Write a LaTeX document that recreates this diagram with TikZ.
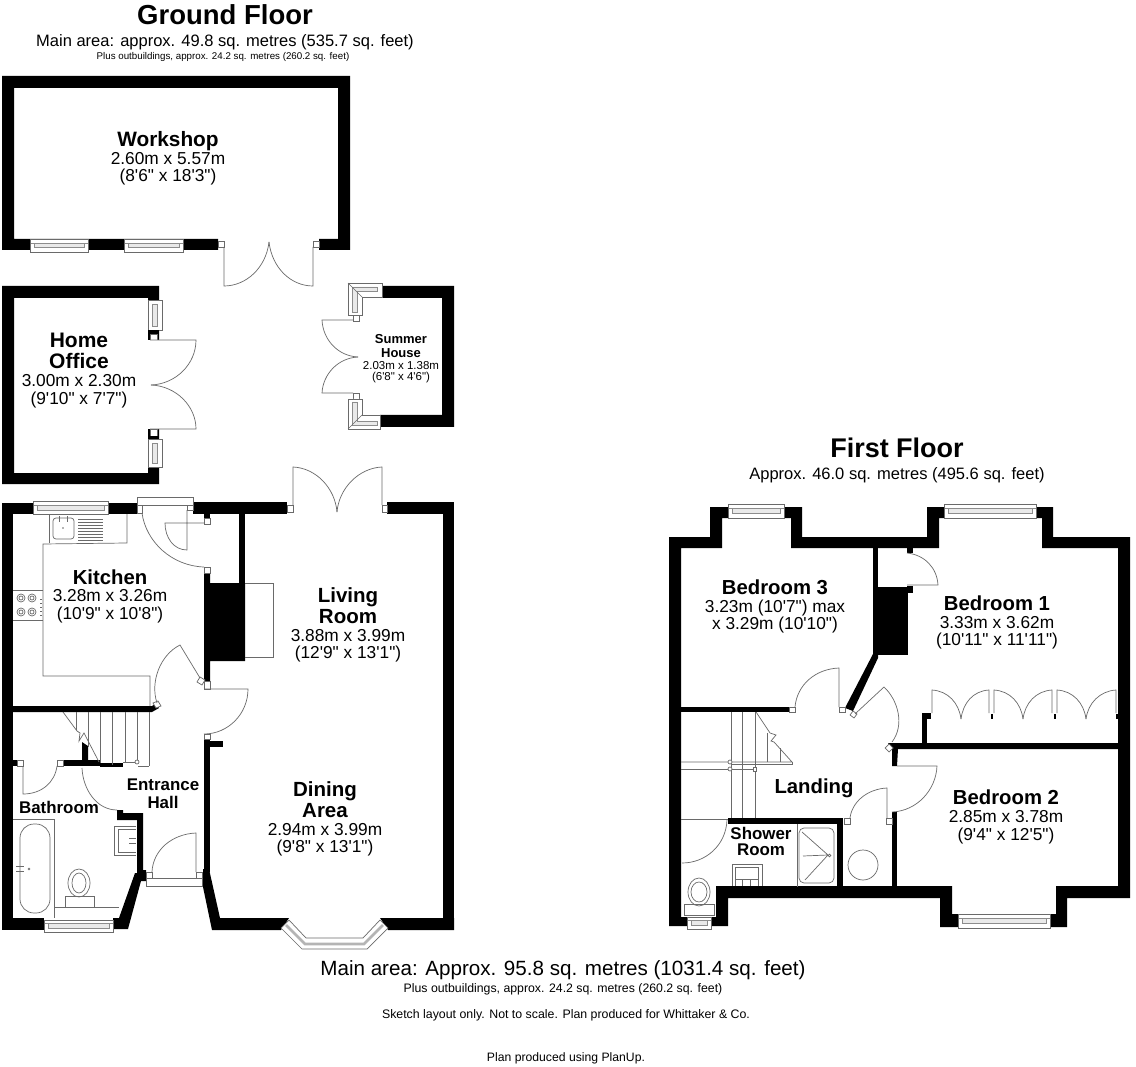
\documentclass[tikz,border=0pt]{standalone}
\usepackage{fontspec}
\newfontfamily\pf{Liberation Sans}
\definecolor{ln}{HTML}{6A6A6A}
\definecolor{glz}{HTML}{C8C8C8}
\newcount\labn
\newcommand{\lr}[4]{\global\advance\labn by 1 \node[inner sep=0pt,anchor=base] (lab\the\labn) at (#1,{#2+0.36*#3}) {\fontsize{#3}{#3}\pf #4};}
\newcommand{\lbb}[4]{\global\advance\labn by 1 \node[inner sep=0pt,anchor=base] (lab\the\labn) at (#1,{#2+0.36*#3}) {\fontsize{#3}{#3}\pf\bfseries #4};}
% horizontal window: x1 x2 y1 y2
\newcommand{\winh}[4]{\draw[pl,fill=white] (#1,#3) rectangle (#2,#4);
  \draw[draw=glz!70!black,line width=0.6pt,fill=glz!40] ({#1+4},{(#3+#4)/2-2.3}) rectangle ({#2-4},{(#3+#4)/2+2.3});
  \draw[draw=glz!70!black,line width=0.6pt] ({#1+0.5},{(#3+#4)/2-2.3}) -- ({#1+4},{(#3+#4)/2-2.3}) ({#2-0.5},{(#3+#4)/2-2.3}) -- ({#2-4},{(#3+#4)/2-2.3});}
\newcommand{\winv}[4]{\draw[pl,fill=white] (#1,#3) rectangle (#2,#4);
  \draw[draw=glz!70!black,line width=0.6pt,fill=glz!40] ({(#1+#2)/2-2.3},{#3+4}) rectangle ({(#1+#2)/2+2.3},{#4-4});}
\newcommand{\jamb}[4]{\draw[pl,fill=white] (#1,#2) rectangle (#3,#4);}
\tikzset{pl/.style={draw=ln,line width=0.7pt},wl/.style={fill=black,draw=none}}
\begin{document}
\begin{tikzpicture}[x=1pt,y=-1pt]
\useasboundingbox (0,0) rectangle (1136,1067);
\fill[white] (0,0) rectangle (1136,1067);
%% ---------- Workshop
\fill[wl,even odd rule] (2,76) -- (350,76) -- (350,250) -- (319,250) -- (319,239) -- (338,239) -- (338,88) -- (14,88) -- (14,239) -- (218,239) -- (218,250) -- (2,250) -- cycle;
\winh{30}{88}{239}{252}
\winh{124}{183}{239}{252}
\jamb{218}{241}{224}{247}
\jamb{313}{241}{319}{247}
\draw[pl] (224,247) -- (224,286) .. controls (246,286) and (266,268) .. (269,242);
\draw[pl] (313,247) -- (313,286) .. controls (291,286) and (272,268) .. (269,242);
%% ---------- Home office
\fill[wl,even odd rule] (2,286) -- (159,286) -- (159,484) -- (2,484) -- cycle (14,298) -- (14,473) -- (148,473) -- (148,298) -- cycle;
\winv{148}{162}{300}{330}
\fill[wl] (148,330) rectangle (159,334);
\jamb{150}{334}{157}{340}
\fill[white] (148,340) rectangle (160,429);
\draw[pl] (150,340) -- (196,340) .. controls (196,364) and (176,384) .. (151,385);
\draw[pl] (150,429) -- (196,429) .. controls (196,406) and (176,386) .. (151,385);
\jamb{150}{429}{157}{436}
\fill[wl] (148,436) rectangle (159,439);
\winv{148}{162}{439}{467}
%% ---------- Summer house
\fill[wl] (380,286) -- (454,286) -- (454,427) -- (380,427) -- (380,415) -- (442,415) -- (442,298) -- (380,298) -- cycle;
\draw[pl,fill=white] (348,283) -- (382,283) -- (382,297) -- (362,297) -- (362,315) -- (348,315) -- cycle;
\draw[draw=glz!70!black,line width=0.6pt,fill=glz!40] (352,287) -- (377,287) -- (377,291) -- (357,291) -- (357,312) -- (352,312) -- cycle;
\draw[pl] (348,283) -- (362,297);
\jamb{353}{315}{359}{321}
\draw[pl] (353,320) -- (322,320) .. controls (323,340) and (338,356) .. (358,357);
\draw[pl] (353,393) -- (322,393) .. controls (323,374) and (338,358) .. (358,357);
\jamb{353}{393}{359}{399}
\draw[pl,fill=white] (348,429) -- (380,429) -- (380,415) -- (362,415) -- (362,399) -- (348,399) -- cycle;
\draw[draw=glz!70!black,line width=0.6pt,fill=glz!40] (352,425) -- (377,425) -- (377,421) -- (357,421) -- (357,402) -- (352,402) -- cycle;
\draw[pl] (348,429) -- (362,415);
%% ---------- Ground floor walls
\fill[wl] (2,503) rectangle (13,930);
\fill[wl] (2,503) rectangle (137,514);
\fill[wl] (193,502) rectangle (287,514);
\fill[wl] (387,502) rectangle (454,514);
\fill[wl] (443,502) rectangle (454,930);
\fill[wl] (2,918) rectangle (44,930);
\fill[wl] (203,869) -- (209,869) -- (220,918) -- (289,918) -- (281,930) -- (212,930) -- (203,887) -- cycle;
\fill[wl] (380,918) -- (454,918) -- (454,930) -- (388,930) -- cycle;
\fill[wl] (204,739) rectangle (210,872);
\fill[wl] (210,741) rectangle (223,747);
\fill[wl] (204,514) rectangle (210,518);
\fill[wl] (239,514) rectangle (245,583);
\fill[wl] (204,573) -- (210,573) -- (210,583) -- (245,583) -- (245,661) -- (210,661) -- (210,681) -- (204,681) -- cycle;
\fill[wl] (13,706) -- (152,706) -- (157,703) -- (159,708) -- (152,712) -- (13,712) -- cycle;
\fill[wl] (13,760) rectangle (17,766);
\fill[wl] (63,760) rectangle (100,766);
\fill[wl] (100,763) rectangle (123,767);
\fill[wl] (82,742) -- (88,746) -- (88,760) -- (82,760) -- cycle;
\fill[wl] (117,810) -- (123,810) -- (123,813) -- (143,813) -- (143,870) -- (146,870) -- (146,881) -- (141,881) -- (128,929) -- (113,929) -- (113,918) -- (119,918) -- (135,873) -- (137,873) -- (137,820) -- (117,820) -- cycle;
%% windows and jambs ground floor
\winh{33}{108}{501}{514}
\winh{44}{113}{920}{932}
\draw[pl,fill=white] (281,928) -- (302,949) -- (367,949) -- (388,928) -- (380,920) -- (363,938) -- (306,938) -- (289,920) -- cycle;
\draw[line width=2.6pt,glz!90!black] (286,925) -- (305,944) -- (364,944) -- (383,925);
\jamb{204}{518}{210}{524}
\jamb{204}{567}{210}{573}
\jamb{204}{681}{210}{689}
\jamb{204}{734}{210}{739}
\jamb{287}{505}{293}{512}
\jamb{382}{505}{387}{512}
\jamb{17}{760}{23}{766}
\jamb{57}{760}{63}{766}
\draw[pl,fill=white] (200,677) -- (205,680) -- (202,685) -- (197,682) -- cycle;
\draw[pl,fill=white] (153,703) -- (158,701) -- (161,706) -- (156,708) -- cycle;
%% back door
\draw[pl,fill=white] (137,497) rectangle (193,505);
\jamb{137}{505}{142}{513}
\jamb{187}{505}{193}{510}
\draw[pl] (142,513) .. controls (146,542) and (172,566) .. (204,567);
\draw[pl] (187,510) -- (187,550) .. controls (174,550) and (165,538) .. (165,523) -- (204,523);
%% French doors living
\draw[pl] (293,505) -- (293,467) .. controls (316,468) and (335,488) .. (337,512);
\draw[pl] (382,505) -- (382,467) .. controls (359,468) and (339,488) .. (337,512);
%% hearth
\draw[pl] (245,583) -- (273,583) -- (273,657) -- (245,657);
%% hall door
\draw[pl] (204,689) -- (248,689) .. controls (248,714) and (228,734) .. (204,734);
%% kitchen door
\draw[pl] (200,678) -- (180,645) .. controls (160,655) and (150,682) .. (157,703);
%% bathroom doors
\draw[pl] (23,766) -- (23,794) .. controls (42,794) and (55,782) .. (57,766);
\draw[pl] (82,768) .. controls (83,790) and (97,810) .. (117,810);
%% front door
\draw[pl,fill=white] (146,878) rectangle (202,886);
\jamb{146}{872}{152}{878}
\jamb{196}{872}{202}{878}
\draw[pl] (196,872) -- (196,833) .. controls (172,834) and (153,850) .. (152,872);
%% kitchen fittings
\draw[pl] (127,514) -- (127,543) -- (43,544) -- (43,676) -- (150,676) -- (150,706);
\draw[pl] (49,514) -- (49,543);
\draw[pl] (13,590) -- (43,590) (13,620) -- (43,620);
\foreach \hx/\hy in {21/598,32/598,21/612,32/612} {\draw[pl] (\hx,\hy) circle[radius=4]; \draw[pl] (\hx,\hy) circle[radius=2];}
\foreach \hy in {599,603,607,611,615} {\draw[pl] (40,\hy) -- (42,\hy);}
\draw[pl,rounded corners=3pt] (53,518) rectangle (74,539);
\draw[pl] (59,516) -- (59,522) (67,516) -- (67,522);
\fill[ln] (63,528) circle[radius=0.8];
\foreach \dy in {519,522,525,528,531,534,537,540} {\draw[pl] (78,\dy) -- (103,\dy);}
%% stairs ground
\draw[pl] (63,712) -- (77,731) -- (80,733) -- (79,741) -- (84,733) -- (99,762);
\foreach \sx/\sy in {76/730,88/747,100/763,112/765,125/763,137/762,149/766} {\draw[pl] (\sx,712) -- (\sx,\sy);}
\draw[pl] (123,762) -- (137,762) (138,766) -- (149,766);
\draw[pl,fill=white] (137,762) circle[radius=2];
%% bathroom fittings
\draw[pl] (13,819) -- (54,819) -- (54,918);
\draw[pl,rounded corners=14pt] (20,824) rectangle (50,913);
\draw[pl] (16,866) -- (24,866) (16,871) -- (24,871);
\draw[pl] (29,869) circle[radius=1];
\draw[pl] (136,826) -- (114,826) -- (114,855) -- (136,855);
\draw[pl] (118,829) -- (118,852) -- (136,852) (118,829) -- (136,829);
\draw[pl] (129,838) -- (136,838) (129,843) -- (136,843);
\draw[pl] (79,883) ellipse[x radius=11,y radius=14];
\draw[pl] (79,883) ellipse[x radius=7,y radius=10];
\draw[pl] (65,896) rectangle (94,907);
\draw[pl] (54,907) -- (119,907);
%% ---------- First floor walls
\fill[wl,even odd rule] (669,537) -- (710,537) -- (710,507) -- (802,507) -- (802,537) -- (927,537) -- (927,507) -- (1053,507) -- (1053,537) -- (1130,537) -- (1130,898) -- (1067,898) -- (1067,927) -- (940,927) -- (940,898) -- (728,898) -- (728,926) -- (669,926) -- cycle
 (681,548) -- (722,548) -- (722,518) -- (791,518) -- (791,548) -- (939,548) -- (939,518) -- (1042,518) -- (1042,548) -- (1118,548) -- (1118,886) -- (1056,886) -- (1056,914) -- (952,914) -- (952,886) -- (716,886) -- (716,917) -- (681,917) -- cycle;
\winh{728}{784}{504}{518}
\winh{944}{1036}{504}{518}
\winh{958}{1050}{914}{928}
\winh{687}{711}{917}{929}
%% interior walls first floor
\fill[wl] (681,707) rectangle (789,712);
\fill[wl] (873,548) rectangle (878,656);
\fill[wl] (878,587) rectangle (908,655);
\fill[wl] (873,654) -- (878,654) -- (878,658) -- (853,711) -- (845,708) -- cycle;
\fill[wl] (907,548) rectangle (913,553);
\fill[wl] (907,586) rectangle (913,593);
\fill[wl] (888,743) -- (1118,743) -- (1118,749) -- (898,749) -- (897,766) -- (892,766) -- (892,749) -- cycle;
\fill[wl] (922,713) rectangle (931,719);
\fill[wl] (922,719) rectangle (927,743);
\fill[wl] (892,812) rectangle (897,887);
\fill[wl] (728,818) rectangle (843,824);
\fill[wl] (837,824) rectangle (843,887);
\foreach \px in {991,1054,1116} {\fill[wl] (\px,714) rectangle ({\px+2},719);}
%% doors first floor
\jamb{789}{707}{795}{712}
\jamb{839}{707}{845}{712}
\draw[pl] (839,707) -- (839,668) .. controls (815,669) and (797,685) .. (795,707);
\draw[pl,fill=white] (853,711) -- (857,714) -- (854,718) -- (850,715) -- cycle;
\draw[pl] (855,714) -- (884,687) .. controls (898,700) and (905,725) .. (892,742);
\draw[pl,fill=white] (889,744) -- (893,748) -- (889,752) -- (885,748) -- cycle;
\draw[pl] (897,766) -- (937,766) .. controls (936,790) and (917,811) .. (892,812);
\jamb{886}{818}{892}{824}
\jamb{844}{818}{850}{824}
\draw[pl] (887,818) -- (887,788) .. controls (867,789) and (852,802) .. (850,818);
\draw[pl] (907,553) .. controls (925,555) and (937,568) .. (938,585) -- (907,585);
%% wardrobes
\foreach \ax/\bx/\cx in {932/961/989,994/1023/1052,1057/1086/1116} {
  \draw[pl] (\ax,713) -- (\ax,690) .. controls (\ax+16,691) and (\bx-2,703) .. (\bx,719);
  \draw[pl] (\cx,713) -- (\cx,690) .. controls (\cx-16,691) and (\bx+2,703) .. (\bx,719);}
%% stairs first floor
\draw[pl] (731,712) -- (731,818) (742,712) -- (742,818) (755,712) -- (755,769) (755,769) -- (755,818);
\draw[pl] (756,712) -- (770,733) -- (776,735) -- (771,741) -- (774,742) -- (792,762) -- (681,762);
\draw[pl] (681,769) -- (755,769);
\draw[pl] (731,764) -- (792,764) -- (792,762);
\draw[pl] (767,733) -- (767,762) (780,748) -- (780,762);
\draw[pl,fill=white] (730,762) circle[radius=2];
\draw[pl,fill=white] (730,769) circle[radius=2];
\jamb{753}{767}{756}{771}
%% shower room
\draw[pl] (681,819) -- (728,819);
\draw[pl] (727,820) .. controls (726,845) and (706,863) .. (682,863);
\draw[pl] (797,824) -- (797,887);
\draw[pl,rounded corners=5pt] (799,828) rectangle (834,883);
\draw[pl] (802,832) -- (828,855) -- (805,880) (803,856) -- (828,855);
\draw[pl] (829.5,855.5) circle[radius=1.3];
\draw[pl] (732,886) -- (732,864) -- (762,864) -- (762,886);
\draw[pl] (735,886) -- (735,867) -- (758,867) -- (758,886);
\draw[pl] (735,879) -- (758,879);
\draw[pl] (742,879) -- (742,886) (750,879) -- (750,886);
\draw[pl] (699,892) ellipse[x radius=11,y radius=14];
\draw[pl] (699,892) ellipse[x radius=8,y radius=10];
\draw[pl] (684,904) rectangle (714,915);
\draw[pl] (863,865) circle[radius=15];
%% ---------- Labels
\lbb{225}{15}{27.5}{Ground Floor}
\lr{225}{41}{16.5}{Main area: approx. 49.8 sq. metres (535.7 sq. feet)}
\lr{223}{56}{9.75}{Plus outbuildings, approx. 24.2 sq. metres (260.2 sq. feet)}
\lbb{168}{139}{20.8}{Workshop}
\lr{168}{158}{17.3}{2.60m x 5.57m}
\lr{168}{175}{17.3}{(8'6" x 18'3")}
\lbb{79}{340}{21}{Home}
\lbb{79}{361}{21}{Office}
\lr{79}{380}{17.3}{3.00m x 2.30m}
\lr{79}{398}{17.3}{(9'10" x 7'7")}
\lbb{401}{339}{13}{Summer}
\lbb{401}{353}{13}{House}
\lr{401}{365}{11.5}{2.03m x 1.38m}
\lr{401}{376}{11.5}{(6'8" x 4'6")}
\lbb{110}{577}{20.3}{Kitchen}
\lr{110}{595}{17.3}{3.28m x 3.26m}
\lr{110}{613}{17.3}{(10'9" x 10'8")}
\lbb{348}{595}{20.5}{Living}
\lbb{348}{616}{20.5}{Room}
\lr{348}{635}{17.3}{3.88m x 3.99m}
\lr{348}{652}{17.3}{(12'9" x 13'1")}
\lbb{325}{789}{20.5}{Dining}
\lbb{325}{810}{20.5}{Area}
\lr{325}{829}{17.3}{2.94m x 3.99m}
\lr{325}{846}{17.3}{(9'8" x 13'1")}
\lbb{163}{784}{16.9}{Entrance}
\lbb{163}{802}{16.9}{Hall}
\lbb{59}{807}{16.9}{Bathroom}
\lbb{897}{448}{27}{First Floor}
\lr{897}{474}{16.5}{Approx. 46.0 sq. metres (495.6 sq. feet)}
\lbb{775}{587}{20.3}{Bedroom 3}
\lr{775}{606}{17.3}{3.23m (10'7") max}
\lr{775}{623}{17.3}{x 3.29m (10'10")}
\lbb{997}{603}{20.3}{Bedroom 1}
\lr{997}{622}{17.3}{3.33m x 3.62m}
\lr{997}{639}{17.3}{(10'11" x 11'11")}
\lbb{1006}{797}{20.3}{Bedroom 2}
\lr{1006}{816}{17.3}{2.85m x 3.78m}
\lr{1006}{834}{17.3}{(9'4" x 12'5")}
\lbb{814}{786}{20.3}{Landing}
\lbb{761}{833}{16.9}{Shower}
\lbb{761}{849}{16.9}{Room}
\lr{563}{968}{20.6}{Main area: Approx. 95.8 sq. metres (1031.4 sq. feet)}
\lr{563}{988}{12.3}{Plus outbuildings, approx. 24.2 sq. metres (260.2 sq. feet)}
\lr{566}{1014}{12.35}{Sketch layout only. Not to scale. Plan produced for Whittaker \& Co.}
\lr{566}{1057}{12.2}{Plan produced using PlanUp.}
\end{tikzpicture}
\end{document}
